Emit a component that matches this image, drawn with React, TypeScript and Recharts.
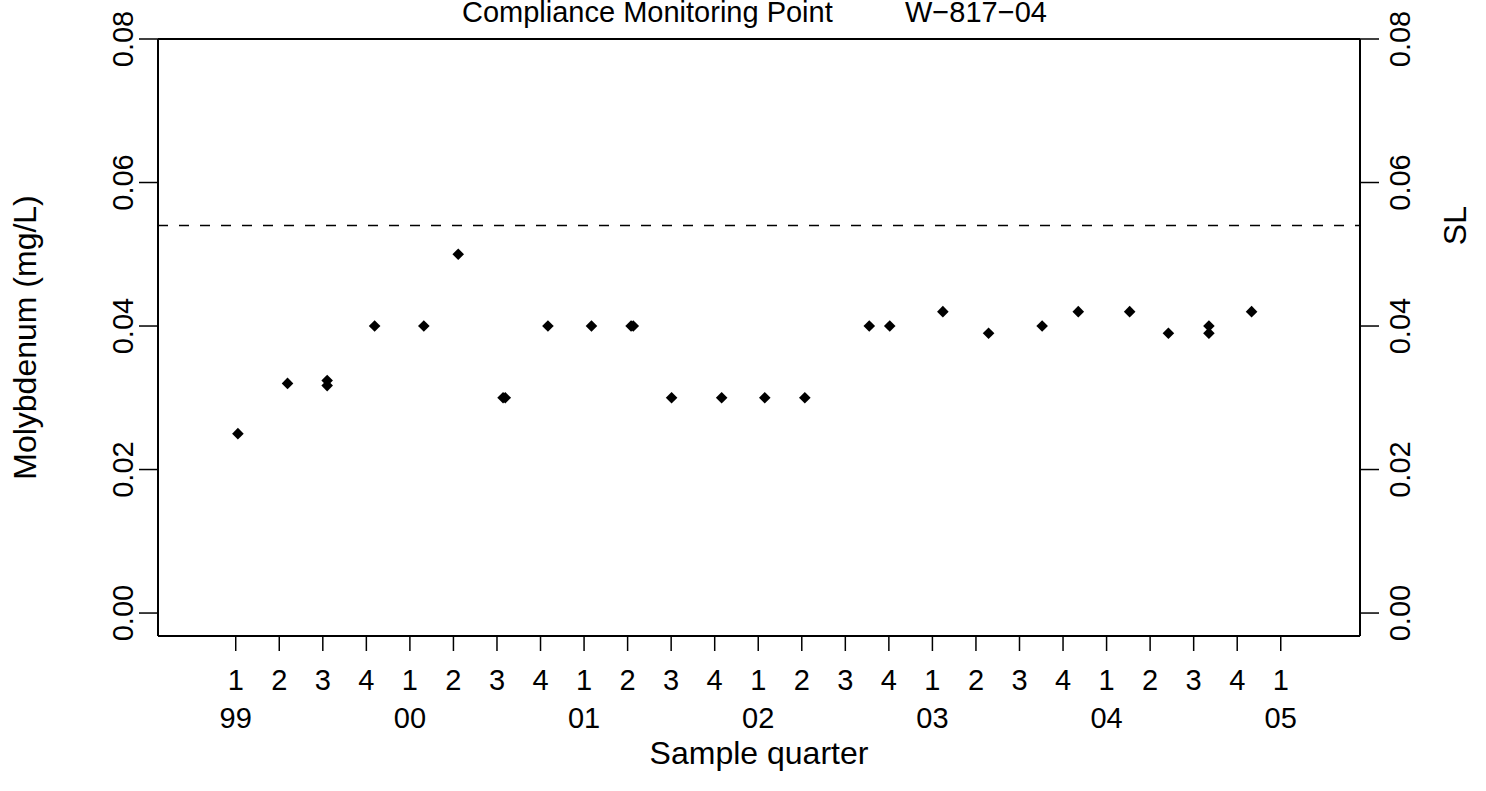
import React from "react";
import { ScatterChart, Scatter, XAxis, YAxis, ReferenceLine, Label } from "recharts";

// Sample time in quarters after 1999 Q1 (0 = 1999 Q1)
const sampleQuarter = [
  0.05, 1.19, 2.1, 2.1, 3.19, 4.32, 5.11, 6.14, 6.19, 7.17, 8.17, 9.08, 9.13,
  10.01, 11.16, 12.15, 13.07, 14.55, 15.02, 16.24, 17.29, 18.52, 19.35, 20.53,
  21.42, 22.35, 22.35, 23.33,
];
const molybdenum = [
  0.025, 0.032, 0.0324, 0.0317, 0.04, 0.04, 0.05, 0.03, 0.03, 0.04, 0.04, 0.04, 0.04,
  0.03, 0.03, 0.03, 0.03, 0.04, 0.04, 0.042, 0.039, 0.04, 0.042, 0.042,
  0.039, 0.04, 0.039, 0.042,
];
const slValue = 0.054;

const xTicks = [0, 1, 2, 3, 4, 5, 6, 7, 8, 9, 10, 11, 12, 13, 14, 15, 16, 17, 18, 19, 20, 21, 22, 23, 24];
const quarterLabels = ["1", "2", "3", "4", "1", "2", "3", "4", "1", "2", "3", "4", "1", "2", "3", "4", "1", "2", "3", "4", "1", "2", "3", "4", "1"];
const yearLabels = ["99", "", "", "", "00", "", "", "", "01", "", "", "", "02", "", "", "", "03", "", "", "", "04", "", "", "", "05"];
const yTicks = [0, 0.02, 0.04, 0.06, 0.08];

const data = sampleQuarter.map((x, i) => ({ x, y: molybdenum[i] }));

const FONT = "'Liberation Sans', Arial, Helvetica, sans-serif";
const FS = 29;
const FS_LAB = 32;

const Diamond = (props: any) => {
  const { cx, cy } = props;
  const h = 5.8;
  return (
    <polygon
      points={`${cx},${cy - h} ${cx + h},${cy} ${cx},${cy + h} ${cx - h},${cy}`}
      fill="#000"
    />
  );
};

const QuarterTick = (props: any) => {
  const { x, y, payload } = props;
  const idx = xTicks.indexOf(payload.value);
  const q = quarterLabels[idx] ?? "";
  const yr = yearLabels[idx] ?? "";
  return (
    <g>
      <text x={x} y={y + 37} textAnchor="middle" fontFamily={FONT} fontSize={FS} fill="#000">
        {q}
      </text>
      {yr && (
        <text x={x} y={y + 75} textAnchor="middle" fontFamily={FONT} fontSize={FS} fill="#000">
          {yr}
        </text>
      )}
    </g>
  );
};

const LeftYTick = (props: any) => {
  const { x, y, payload } = props;
  return (
    <text
      x={x}
      y={y}
      transform={`rotate(-90, ${x}, ${y})`}
      textAnchor="middle"
      fontFamily={FONT}
      fontSize={FS}
      fill="#000"
    >
      {Number(payload.value).toFixed(2)}
    </text>
  );
};

const RightYTick = (props: any) => {
  const { x, y, payload } = props;
  const bx = x + 25;
  return (
    <text
      x={bx}
      y={y}
      transform={`rotate(-90, ${bx}, ${y})`}
      textAnchor="middle"
      fontFamily={FONT}
      fontSize={FS}
      fill="#000"
    >
      {Number(payload.value).toFixed(2)}
    </text>
  );
};

export default function App() {
  return (
    <div style={{ position: "absolute", left: 0, top: 0, width: 1486, height: 791, background: "#fff" }}>
      <svg
        width={1486}
        height={791}
        style={{ position: "absolute", left: 0, top: 0, pointerEvents: "none", zIndex: 2 }}
      >
        <text x={462} y={21.5} fontFamily={FONT} fontSize={FS} fill="#000">
          Compliance Monitoring Point
        </text>
        <text x={905} y={21.5} fontFamily={FONT} fontSize={FS} fill="#000">
          W−817−04
        </text>
      </svg>
      <ScatterChart
        width={1486}
        height={791}
        margin={{ top: 39, right: 0, bottom: 0, left: 0 }}
        style={{ position: "absolute", left: 0, top: 0 }}
      >
        <XAxis
          dataKey="x"
          type="number"
          domain={[-1.785, 25.82]}
          allowDataOverflow
          ticks={xTicks}
          interval={0}
          height={155}
          tickSize={15}
          tickMargin={2}
          axisLine={{ stroke: "#000", strokeWidth: 2 }}
          tickLine={{ stroke: "#000", strokeWidth: 1.5 }}
          tick={<QuarterTick />}
          label={
            <Label
              content={(p: any) => {
                const vb = p.viewBox || {};
                return (
                  <text
                    x={vb.x + vb.width / 2}
                    y={764}
                    textAnchor="middle"
                    fontFamily={FONT}
                    fontSize={FS_LAB}
                    fill="#000"
                  >
                    Sample quarter
                  </text>
                );
              }}
            />
          }
        />
        <YAxis
          yAxisId="left"
          dataKey="y"
          type="number"
          domain={[-0.0032, 0.08]}
          allowDataOverflow
          ticks={yTicks}
          width={158}
          tickSize={19}
          tickMargin={6}
          axisLine={{ stroke: "#000", strokeWidth: 2 }}
          tickLine={{ stroke: "#000", strokeWidth: 1.5 }}
          tick={<LeftYTick />}
          label={
            <Label
              content={(p: any) => {
                const vb = p.viewBox || {};
                const cx = 36;
                const cy = vb.y + vb.height / 2;
                return (
                  <text
                    x={cx}
                    y={cy}
                    transform={`rotate(-90, ${cx}, ${cy})`}
                    textAnchor="middle"
                    fontFamily={FONT}
                    fontSize={FS_LAB}
                    fill="#000"
                  >
                    Molybdenum (mg/L)
                  </text>
                );
              }}
            />
          }
        />
        <YAxis
          yAxisId="right"
          orientation="right"
          type="number"
          domain={[-0.0032, 0.08]}
          allowDataOverflow
          ticks={yTicks}
          width={126}
          tickSize={19}
          tickMargin={6}
          axisLine={{ stroke: "#000", strokeWidth: 2 }}
          tickLine={{ stroke: "#000", strokeWidth: 1.5 }}
          tick={<RightYTick />}
        />
        <ReferenceLine
          yAxisId="left"
          y={0.08}
          stroke="#000"
          strokeWidth={2}
          ifOverflow="visible"
        />
        <ReferenceLine
          yAxisId="left"
          y={slValue}
          stroke="#000"
          strokeWidth={1.6}
          strokeDasharray="10 11"
          label={
            <Label
              content={(p: any) => {
                const vb = p.viewBox || {};
                const bx = vb.x + vb.width + 106;
                const cy = vb.y;
                return (
                  <text
                    x={bx}
                    y={cy}
                    transform={`rotate(-90, ${bx}, ${cy})`}
                    textAnchor="middle"
                    fontFamily={FONT}
                    fontSize={FS_LAB}
                    fill="#000"
                  >
                    SL
                  </text>
                );
              }}
            />
          }
        />
        <Scatter
          yAxisId="left"
          data={data}
          fill="#000"
          shape={<Diamond />}
          isAnimationActive={false}
        />
      </ScatterChart>
    </div>
  );
}
